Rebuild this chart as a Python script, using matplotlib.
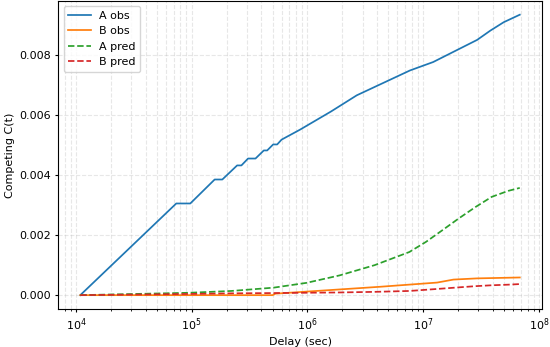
import numpy as np
import matplotlib
matplotlib.use('Agg')
import matplotlib.pyplot as plt

# observed A (step-like at short delays)
delay_a_obs = [1.09e4, 7.36e4, 9.73e4, 1.58e5, 1.84e5, 2.47e5, 2.69e5, 3.07e5,
               3.56e5, 4.20e5, 4.49e5, 5.06e5, 5.48e5, 5.98e5, 6.6e5, 8.6e5,
               1.6e6, 2.67e6, 7.7e6, 1.22e7, 2.93e7, 3.81e7, 4.97e7, 6.84e7]
a_obs = [0.0, 0.00306, 0.00306, 0.00386, 0.00386, 0.00433, 0.00433, 0.00456,
         0.00456, 0.00483, 0.00483, 0.00503, 0.00503, 0.00519, 0.00528, 0.00552,
         0.00613, 0.00667, 0.00750, 0.00778, 0.00852, 0.00883, 0.00911, 0.00936]

# observed B
delay_b_obs = [1.09e4, 5.0e5, 5.3e5, 4.25e6, 1.32e7, 1.83e7, 2.93e7, 6.84e7]
b_obs = [0.0, 0.0, 0.00005, 0.00028, 0.00042, 0.00052, 0.00056, 0.00059]

# predictions
delay_pred = [1.09e4, 9.6e4, 2.2e5, 5.1e5, 9.8e5, 1.9e6, 3.8e6, 7.6e6, 1.06e7,
              1.47e7, 2.03e7, 2.83e7, 3.91e7, 5.43e7, 6.84e7]
a_pred = [0.0, 0.00008, 0.00014, 0.00025, 0.00041, 0.00066, 0.00100, 0.00144,
          0.00178, 0.00217, 0.00256, 0.00294, 0.00328, 0.00348, 0.00358]
b_pred = [0.0, 0.00004, 0.00006, 0.00007, 0.00008, 0.00009, 0.00011, 0.00014,
          0.00018, 0.00022, 0.00026, 0.00030, 0.00033, 0.00035, 0.00037]

plt.rcParams['font.size'] = 8
plt.rcParams['xtick.major.size'] = 2.5
plt.rcParams['ytick.major.size'] = 2.5
plt.rcParams['xtick.minor.size'] = 1.5
plt.rcParams['xtick.major.pad'] = 2.5
plt.rcParams['ytick.major.pad'] = 2.5
plt.rcParams['xtick.minor.pad'] = 2.5
plt.rcParams['axes.labelpad'] = 3

fig = plt.figure(figsize=(5.5, 3.47), dpi=100)
ax = fig.add_axes([0.106, 0.109, 0.879, 0.889])
ax.plot(delay_a_obs, a_obs, color='tab:blue', lw=1.25, label='A obs')
ax.plot(delay_b_obs, b_obs, color='tab:orange', lw=1.25, label='B obs')
ax.plot(delay_pred, a_pred, '--', color='tab:green', lw=1.25, label='A pred')
ax.plot(delay_pred, b_pred, '--', color='tab:red', lw=1.25, label='B pred')
ax.set_xscale('log')
ax.set_xlabel('Delay (sec)')
ax.set_ylabel('Competing C(t)')
ax.grid(True, which='both', ls='--', alpha=0.3)
ax.legend(loc='upper left')
fig.savefig('out.png', dpi=100)
